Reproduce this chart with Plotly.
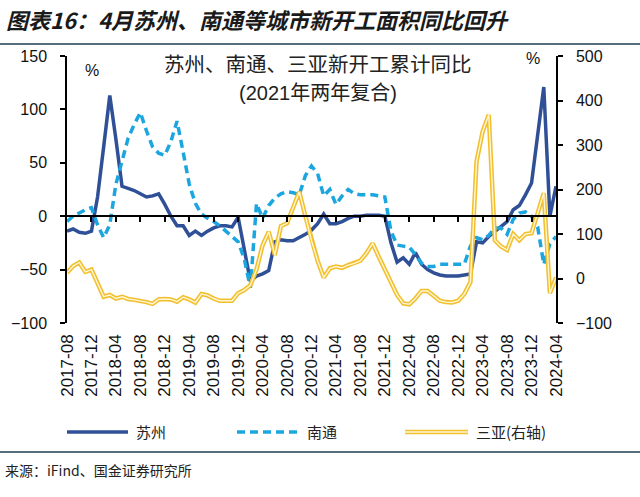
import plotly.graph_objects as go

# ---------------- data ----------------
months = []
y, m = 2017, 8
while (y, m) <= (2024, 4):
    months.append(f"{y}-{m:02d}")
    m += 1
    if m > 12:
        m = 1
        y += 1

suzhou = [-14, -12, -15, -16, -14, 18, 65, 113, 72, 28,
          26, 24, 21, 18, 19, 21, 11, 0, -9, -9,
          -18, -14, -18, -14, -11, -9, -9, -10, -1, -30,
          -61, -56, -54, -51, -24, -22, -23, -23, -20, -17,
          -13, -7, 2, -7, -7, -5, -2, 0, 0, 1,
          1, 1, 0, -25, -43, -39, -45, -34, -45, -50,
          -53, -55, -56, -56, -56, -55, -54, -24, -25, -19,
          -14, -10, -5, 6, 10, 20, 31, 76, 121, 0,
          28]

nantong = [-5, 0, 3, 6, 8, -8, -20, -8, 30, 52,
           73, 86, 97, 80, 65, 59, 57, 70, 89, 60,
           30, 12, 2, -2, -5, -9, -14, -19, -24, -40,
           -67, 12, -2, 10, 17, 21, 23, 22, 20, 38,
           47, 40, 19, 25, 11, 19, 25, 21, 20, 20,
           20, 19, 18, -14, -27, -28, -29, -36, -44, -47,
           -47, -45, -45, -45, -45, -45, -28, -20, -22, -18,
           -11, -11, -17, -3, 3, 4, 0, -10, -45, -26,
           -19]

sanya = [13, 28, 36, 15, 20, -10, -41, -37, -45, -41,
         -46, -48, -50, -53, -57, -47, -46, -47, -52, -42,
         -47, -54, -35, -38, -45, -50, -50, -50, -33, -26,
         -15, 20, 75, 105, 53, 118, 124, 160, 195, 140,
         85, 40, 2, 23, 27, 24, 30, 34, 40, 57,
         79, 49, 19, -10, -37, -56, -58, -45, -28, -28,
         -38, -50, -53, -54, -50, -35, -8, 263, 330, 368,
         86, 72, 64, 100, 86, 100, 102, 145, 192, -33,
         2]

tick_idx = list(range(0, len(months), 4))
tick_labels = [months[i] for i in tick_idx]
left_ticks = [-100, -50, 0, 50, 100, 150]
right_ticks = [-100, 0, 100, 200, 300, 400, 500]

idx = list(range(len(months)))

# ---------------- styles ----------------
C_SZ = "#2F4F96"
C_NT = "#1BA6E0"
C_SY = "#F2C02E"
C_SY_IN = "#FFF6D6"
FONT = "Arial, Liberation Sans, Noto Sans CJK SC, sans-serif"
CJK = "Noto Sans CJK SC, sans-serif"

W, H = 640, 497
L, R, T, B = 67, 556, 56, 323


def px(x):
    return (x - L) / (R - L)


def py(yv):
    return (B - yv) / (B - T)


fig = go.Figure()

fig.add_trace(go.Scatter(x=idx, y=suzhou, mode="lines", name="苏州",
                         line=dict(color=C_SZ, width=3.5), yaxis="y", xaxis="x",
                         showlegend=False))
fig.add_trace(go.Scatter(x=idx, y=nantong, mode="lines", name="南通",
                         line=dict(color=C_NT, width=3.5, dash="8px,5px"),
                         yaxis="y", xaxis="x", showlegend=False))
fig.add_trace(go.Scatter(x=idx, y=sanya, mode="lines", name="三亚(右轴)",
                         line=dict(color=C_SY, width=4.5), yaxis="y2", xaxis="x",
                         showlegend=False))
fig.add_trace(go.Scatter(x=idx, y=sanya, mode="lines", name="三亚(右轴)",
                         line=dict(color=C_SY_IN, width=1.4), yaxis="y2", xaxis="x",
                         showlegend=False, hoverinfo="skip"))
# carrier for the zero-crossing axis
fig.add_trace(go.Scatter(x=[0], y=[0], mode="markers", marker=dict(opacity=0),
                         xaxis="x2", yaxis="y", showlegend=False, hoverinfo="skip"))

axis_common = dict(showgrid=False, zeroline=False, linecolor="black", linewidth=1.5,
                   tickcolor="black", tickwidth=1.5)

fig.update_layout(
    width=W, height=H,
    margin=dict(l=L, r=W - R, t=T, b=H - B),
    paper_bgcolor="white", plot_bgcolor="white",
    font=dict(family=FONT, color="#111", size=15),
    xaxis=dict(range=[0, len(months) - 1], tickvals=tick_idx, ticktext=tick_labels,
               tickangle=-90, showline=False, ticks="", showgrid=False, zeroline=False,
               tickfont=dict(size=17, family=FONT, color="#111"),
               ticklabelstandoff=7),
    xaxis2=dict(range=[0, len(months) - 1], overlaying="x", anchor="free",
                position=(0 - left_ticks[0]) / (left_ticks[-1] - left_ticks[0]),
                side="bottom", showline=True, ticks="outside", ticklen=5,
                tickvals=tick_idx[1:-1], showticklabels=False, **axis_common),
    yaxis=dict(range=[left_ticks[0], left_ticks[-1]], tickvals=left_ticks,
               showline=True, ticks="outside", ticklen=5,
               tickfont=dict(size=16, family=FONT, color="#111"),
               ticklabelstandoff=10, **axis_common),
    yaxis2=dict(range=[right_ticks[0], right_ticks[-1]], tickvals=right_ticks,
                overlaying="y", side="right", showline=True, ticks="outside", ticklen=5,
                tickfont=dict(size=16, family=FONT, color="#111"),
                ticklabelstandoff=10, **axis_common),
)

shapes = []
annos = []

# header line & title
shapes.append(dict(type="line", xref="paper", yref="paper",
                   x0=px(0), x1=px(W), y0=py(44), y1=py(44),
                   line=dict(color="#1E3F52", width=1.5)))
annos.append(dict(text="<b><i>图表16：4月苏州、南通等城市新开工面积同比回升</i></b>",
                  xref="paper", yref="paper", x=px(4), y=py(19), xanchor="left",
                  yanchor="middle", showarrow=False,
                  font=dict(size=22, family=CJK, color="#1a1a1a")))

# in-plot titles
annos.append(dict(text="苏州、南通、三亚新开工累计同比", xref="paper", yref="paper",
                  x=px(318), y=py(63), xanchor="center", yanchor="middle", showarrow=False,
                  font=dict(size=20.5, family=CJK, color="#222")))
annos.append(dict(text="(2021年两年复合)", xref="paper", yref="paper",
                  x=px(318), y=py(93), xanchor="center", yanchor="middle", showarrow=False,
                  font=dict(size=20, family=FONT, color="#222")))
annos.append(dict(text="%", xref="paper", yref="paper", x=px(92), y=py(70),
                  xanchor="center", yanchor="middle", showarrow=False,
                  font=dict(size=16, family=FONT, color="#111")))
annos.append(dict(text="%", xref="paper", yref="paper", x=px(533), y=py(58),
                  xanchor="center", yanchor="middle", showarrow=False,
                  font=dict(size=16, family=FONT, color="#111")))

# legend
ly = py(432)
shapes.append(dict(type="line", xref="paper", yref="paper", x0=px(67), x1=px(128),
                   y0=ly, y1=ly, line=dict(color=C_SZ, width=3.5)))
annos.append(dict(text="苏州", xref="paper", yref="paper", x=px(134), y=ly,
                  xanchor="left", yanchor="middle", showarrow=False,
                  font=dict(size=15, family=CJK, color="#222")))
shapes.append(dict(type="line", xref="paper", yref="paper", x0=px(237), x1=px(299),
                   y0=ly, y1=ly, line=dict(color=C_NT, width=3.5, dash="8px,5px")))
annos.append(dict(text="南通", xref="paper", yref="paper", x=px(305), y=ly,
                  xanchor="left", yanchor="middle", showarrow=False,
                  font=dict(size=15, family=CJK, color="#222")))
shapes.append(dict(type="line", xref="paper", yref="paper", x0=px(405), x1=px(468),
                   y0=ly, y1=ly, line=dict(color=C_SY, width=4.5)))
shapes.append(dict(type="line", xref="paper", yref="paper", x0=px(405), x1=px(468),
                   y0=ly, y1=ly, line=dict(color=C_SY_IN, width=1.4)))
annos.append(dict(text="三亚(右轴)", xref="paper", yref="paper", x=px(474), y=ly,
                  xanchor="left", yanchor="middle", showarrow=False,
                  font=dict(size=15, family=CJK, color="#222")))

# source
shapes.append(dict(type="line", xref="paper", yref="paper",
                   x0=px(0), x1=px(W), y0=py(452), y1=py(452),
                   line=dict(color="#1E3F52", width=1.5)))
annos.append(dict(text="来源：iFind、国金证券研究所", xref="paper", yref="paper",
                  x=px(3), y=py(470), xanchor="left", yanchor="middle", showarrow=False,
                  font=dict(size=14, family=CJK, color="#222")))

fig.update_layout(shapes=shapes, annotations=annos)

fig.write_html("out.html", config={"displayModeBar": False},
               post_script="document.body.style.margin='0';document.body.style.padding='0';")
